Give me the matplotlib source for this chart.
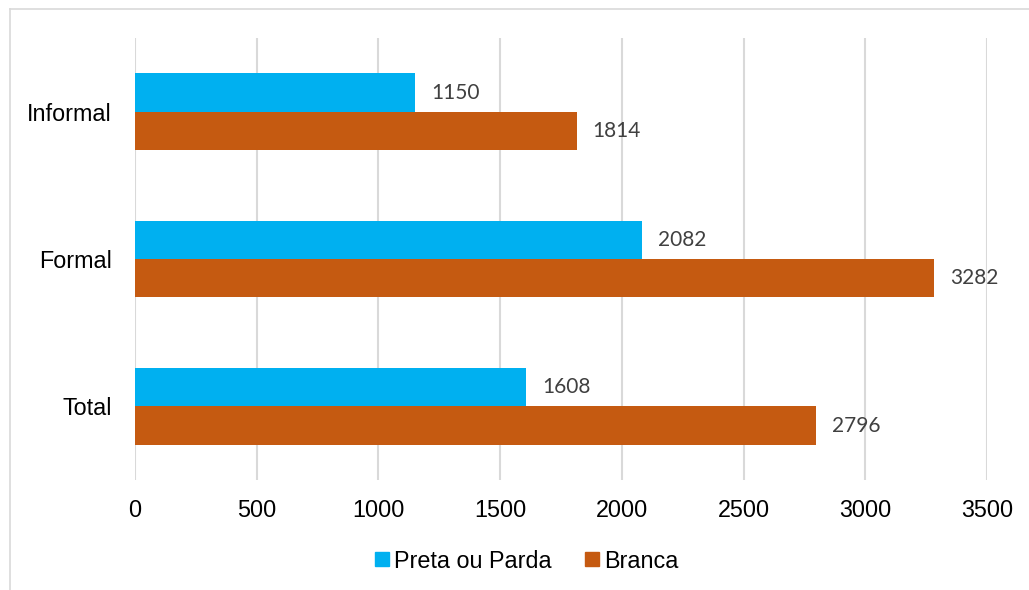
import numpy as np
import matplotlib
matplotlib.use("Agg")
import matplotlib.pyplot as plt
from matplotlib.lines import Line2D

# data ........................................................................
categories = ["Total", "Formal", "Informal"]
preta_parda = [1608, 2082, 1150]
branca = [2796, 3282, 1814]
series_names = ["Preta ou Parda", "Branca"]
x_ticks = [0, 500, 1000, 1500, 2000, 2500, 3000, 3500]

BLUE = "#00B0F0"
ORANGE = "#C55A11"
GRID = "#D9D9D9"


def main():
    plt.rcParams["font.family"] = ["Liberation Sans", "DejaVu Sans"]

    fig = plt.figure(figsize=(10.29, 5.90), dpi=100)
    ax = fig.add_axes([0.1312, 0.1864, 0.828, 0.7492])

    y = np.arange(len(categories))
    h = 0.26
    b1 = ax.barh(y + h / 2, preta_parda, height=h, color=BLUE, label=series_names[0])
    b2 = ax.barh(y - h / 2, branca, height=h, color=ORANGE, label=series_names[1])

    # value labels
    for bars in (b1, b2):
        ax.bar_label(bars, labels=[str(v) for v in bars.datavalues], padding=11.5,
                     fontsize=15, color="#404040", family=["Lato", "DejaVu Sans"])

    ax.set_xlim(0, 3500)
    ax.set_ylim(-0.5, 2.5)
    ax.set_xticks(x_ticks)
    ax.set_xticklabels([str(t) for t in x_ticks])
    ax.set_yticks(y)
    ax.set_yticklabels(categories)
    ax.tick_params(axis="both", length=0, labelsize=16.8, colors="black")
    ax.tick_params(axis="x", pad=14)
    ax.tick_params(axis="y", pad=16.5)

    ax.grid(axis="x", color=GRID, linewidth=1.5)
    ax.set_axisbelow(True)
    for s in ax.spines.values():
        s.set_visible(False)

    # legend ..................................................................
    handles = [Line2D([], [], marker="s", linestyle="none", markersize=10,
                      markerfacecolor=c, markeredgecolor=c) for c in (BLUE, ORANGE)]
    fig.legend(handles, series_names, loc="center", bbox_to_anchor=(0.51, 0.049),
               ncol=2, frameon=False, fontsize=16.8, handletextpad=0.05,
               columnspacing=1.3, handlelength=0.9)

    # chart border (only the left and top edges are in frame)
    fig.add_artist(Line2D([10 / 1029, 10 / 1029], [0, 1 - 9 / 590],
                          transform=fig.transFigure, color=GRID, linewidth=1.2))
    fig.add_artist(Line2D([10 / 1029, 1], [1 - 9 / 590, 1 - 9 / 590],
                          transform=fig.transFigure, color=GRID, linewidth=1.2))

    fig.savefig("out.png", dpi=100)


if __name__ == "__main__":
    main()
